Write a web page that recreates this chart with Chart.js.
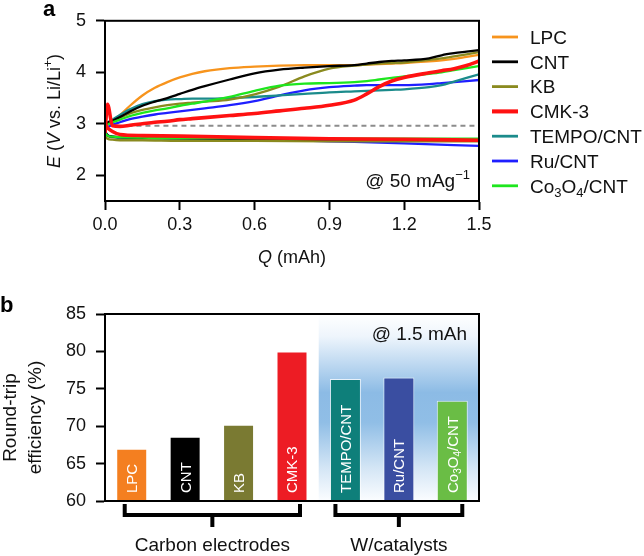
<!DOCTYPE html>
<html><head><meta charset="utf-8">
<script src="https://cdn.jsdelivr.net/npm/chart.js"></script>
<style>
html,body{margin:0;padding:0;background:#fff;width:644px;height:556px;overflow:hidden}
#wrapA{position:absolute;left:0;top:0;width:644px;height:280px}
#wrapB{position:absolute;left:0;top:290px;width:644px;height:266px}
canvas{display:block}
</style></head><body>
<div id="wrapA"><canvas id="chartA" width="644" height="280"></canvas></div>
<div id="wrapB"><canvas id="chartB" width="644" height="266"></canvas></div>
<script>
// ---------- DATA (panel a) ----------
const seriesNames = ['LPC', 'CNT', 'KB', 'CMK-3', 'TEMPO/CNT', 'Ru/CNT', 'Co3O4/CNT'];
const qCharge = [0, 0.01, 0.03, 0.06, 0.1, 0.15, 0.2, 0.25, 0.3, 0.35, 0.4, 0.5, 0.6, 0.7, 0.8, 0.9, 1.0, 1.05, 1.1, 1.15, 1.2, 1.3, 1.35, 1.4, 1.45, 1.5];
const qDischarge = [0, 0.01, 0.03, 0.06, 0.15, 0.3, 0.6, 0.9, 1.2, 1.5];
const lpcCharge = [2.95, 3.0, 3.06, 3.17, 3.35, 3.55, 3.7, 3.81, 3.9, 3.97, 4.02, 4.08, 4.11, 4.13, 4.14, 4.14, 4.14, 4.15, 4.16, 4.17, 4.18, 4.21, 4.23, 4.26, 4.3, 4.34];
const cntCharge = [2.97, 3.02, 3.06, 3.13, 3.24, 3.35, 3.43, 3.5, 3.58, 3.66, 3.73, 3.86, 3.98, 4.05, 4.09, 4.12, 4.14, 4.17, 4.2, 4.22, 4.23, 4.27, 4.33, 4.37, 4.4, 4.43];
const kbCharge = [2.96, 3.0, 3.05, 3.12, 3.2, 3.27, 3.32, 3.36, 3.39, 3.41, 3.43, 3.47, 3.57, 3.72, 3.92, 4.07, 4.13, 4.15, 4.17, 4.18, 4.19, 4.24, 4.27, 4.31, 4.35, 4.39];
const cmkCharge = [2.82, 3.38, 2.96, 2.95, 2.97, 3.0, 3.03, 3.05, 3.08, 3.1, 3.12, 3.16, 3.2, 3.25, 3.3, 3.36, 3.46, 3.58, 3.72, 3.83, 3.9, 3.99, 4.03, 4.07, 4.13, 4.22];
const tempoCharge = [2.97, 3.02, 3.08, 3.17, 3.28, 3.38, 3.44, 3.47, 3.48, 3.49, 3.49, 3.5, 3.52, 3.55, 3.58, 3.61, 3.63, 3.64, 3.65, 3.66, 3.67, 3.71, 3.75, 3.82, 3.89, 3.96];
const ruCharge = [2.88, 2.93, 2.98, 3.03, 3.09, 3.14, 3.18, 3.21, 3.24, 3.27, 3.3, 3.36, 3.44, 3.55, 3.65, 3.71, 3.74, 3.75, 3.75, 3.75, 3.75, 3.77, 3.79, 3.81, 3.83, 3.85];
const coCharge = [2.93, 2.98, 3.03, 3.08, 3.15, 3.21, 3.26, 3.3, 3.35, 3.39, 3.43, 3.52, 3.64, 3.74, 3.78, 3.79, 3.81, 3.83, 3.86, 3.89, 3.92, 3.97, 4.0, 4.04, 4.08, 4.12];
const lpcDischarge = [2.82, 2.76, 2.74, 2.73, 2.72, 2.71, 2.70, 2.69, 2.69, 2.68];
const cntDischarge = [2.85, 2.78, 2.75, 2.74, 2.73, 2.72, 2.71, 2.70, 2.70, 2.69];
const kbDischarge = [2.75, 2.71, 2.69, 2.68, 2.68, 2.67, 2.67, 2.66, 2.66, 2.66];
const cmkDischarge = [3.0, 2.92, 2.85, 2.79, 2.77, 2.76, 2.73, 2.71, 2.70, 2.68];
const tempoDischarge = [2.83, 2.77, 2.74, 2.73, 2.72, 2.71, 2.71, 2.70, 2.70, 2.70];
const ruDischarge = [2.85, 2.78, 2.75, 2.74, 2.73, 2.72, 2.70, 2.66, 2.62, 2.57];
const coDischarge = [2.83, 2.77, 2.75, 2.74, 2.73, 2.72, 2.72, 2.71, 2.71, 2.71];
const equilibriumQ = [0.09, 1.5];
const equilibriumE = [2.96, 2.96];
const xTicksA = [0, 0.3, 0.6, 0.9, 1.2, 1.5];
const yTicksA = [2, 3, 4, 5];

// ---------- DATA (panel b) ----------
const barCategories = ['LPC', 'CNT', 'KB', 'CMK-3', 'TEMPO/CNT', 'Ru/CNT', 'Co3O4/CNT'];
const efficiency = [67.0, 68.6, 70.2, 80.0, 76.3, 76.5, 73.4];
const yTicksB = [60, 65, 70, 75, 80, 85];
const groupNames = ['Carbon electrodes', 'W/catalysts'];
const groupFirst = [0, 4];
const groupLast = [3, 6];

// ---------- STYLES ----------
const FONT = '"Liberation Sans", Arial, Helvetica, sans-serif';
const lineColors = ['#f7941d', '#000000', '#8a8a1f', '#ff1111', '#1b8b8b', '#1f1fff', '#1ee61e'];
const lineWidths = [2.3, 2.3, 2.3, 3.6, 2.3, 2.3, 2.3];
const drawOrder = [6, 2, 3, 0, 4, 5, 1];
const barColors = ['#f47f20', '#000000', '#7a7a32', '#ed1c24', '#0e7f7a', '#3a4ea1', '#6abd45'];

Chart.defaults.font.family = FONT;
Chart.defaults.color = '#111';

// rich text helpers
function toSegs(name) {
  const segs = [];
  const re = /([A-Za-z])(\d+)/g;
  let last = 0, m;
  while ((m = re.exec(name)) !== null) {
    const end = m.index + 1;
    segs.push({ t: name.slice(last, end) });
    segs.push({ t: m[2], pos: 'sub' });
    last = m.index + m[0].length;
  }
  if (last < name.length) segs.push({ t: name.slice(last) });
  return segs;
}
function segFont(s, size) {
  const sz = s.pos ? Math.round(size * 0.68) : size;
  return (s.it ? 'italic ' : '') + (s.bold ? 'bold ' : '') + sz + 'px ' + FONT;
}
function richWidth(ctx, segs, size) {
  let w = 0;
  segs.forEach(s => { ctx.font = segFont(s, size); w += ctx.measureText(s.t).width; });
  return w;
}
function drawRich(ctx, segs, x, y, size, align, color) {
  ctx.save();
  ctx.fillStyle = color || '#111';
  ctx.textBaseline = 'alphabetic';
  ctx.textAlign = 'left';
  const w = richWidth(ctx, segs, size);
  let cx = align === 'center' ? x - w / 2 : align === 'right' ? x - w : x;
  segs.forEach(s => {
    ctx.font = segFont(s, size);
    let dy = 0;
    if (s.pos === 'sub') dy = size * 0.25;
    if (s.pos === 'sup') dy = -size * 0.42;
    ctx.fillText(s.t, cx, y + dy);
    cx += ctx.measureText(s.t).width;
  });
  ctx.restore();
}

// ---------- CHART A ----------
function pts(xs, ys) { return xs.map((x, i) => ({ x: x, y: ys[i] })); }
const chargeSets = [lpcCharge, cntCharge, kbCharge, cmkCharge, tempoCharge, ruCharge, coCharge];
const dischargeSets = [lpcDischarge, cntDischarge, kbDischarge, cmkDischarge, tempoDischarge, ruDischarge, coDischarge];
const dsA = [];
seriesNames.forEach((n, i) => {
  [pts(qDischarge, dischargeSets[i]), pts(qCharge, chargeSets[i])].forEach((d, k) => {
    dsA.push({
      label: n + (k ? ' charge' : ' discharge'),
      data: d,
      borderColor: lineColors[i],
      backgroundColor: lineColors[i],
      borderWidth: lineWidths[i],
      pointRadius: 0,
      fill: false,
      cubicInterpolationMode: 'monotone',
      order: drawOrder[i] + 1
    });
  });
});
dsA.push({
  label: 'E0',
  data: pts(equilibriumQ, equilibriumE),
  borderColor: '#8c8c8c',
  borderWidth: 2,
  borderDash: [5, 4],
  pointRadius: 0,
  fill: false,
  order: 50
});

const decoA = {
  id: 'decoA',
  afterDraw(chart) {
    const ctx = chart.ctx, a = chart.chartArea;
    ctx.save();
    ctx.strokeStyle = '#000';
    ctx.lineWidth = 2;
    ctx.strokeRect(a.left, a.top, a.right - a.left, a.bottom - a.top);
    ctx.restore();
    drawRich(ctx, [{ t: 'a', bold: true }], 43, 16, 22, 'left', '#000');
    ctx.save();
    ctx.translate(60, (a.top + a.bottom) / 2);
    ctx.rotate(-Math.PI / 2);
    drawRich(ctx, [{ t: 'E', it: true }, { t: ' (' }, { t: 'V', it: true }, { t: ' vs. Li/Li' }, { t: '+', pos: 'sup' }, { t: ')' }], 0, 0, 18, 'center', '#111');
    ctx.restore();
    drawRich(ctx, [{ t: 'Q', it: true }, { t: ' (mAh)' }], (a.left + a.right) / 2, 263, 18, 'center', '#111');
    drawRich(ctx, [{ t: '@ 50 mAg' }, { t: '\u22121', pos: 'sup' }], 470, 187, 19, 'right', '#111');
    seriesNames.forEach((n, i) => {
      const y = 37 + i * 24.8;
      ctx.save();
      ctx.strokeStyle = lineColors[i];
      ctx.lineWidth = lineWidths[i] + 0.5;
      ctx.beginPath();
      ctx.moveTo(492, y);
      ctx.lineTo(518, y);
      ctx.stroke();
      ctx.restore();
      drawRich(ctx, toSegs(n), 530, y + 6.8, 19, 'left', '#111');
    });
  }
};

new Chart(document.getElementById('chartA'), {
  type: 'line',
  data: { datasets: dsA },
  options: {
    responsive: false,
    animation: false,
    layout: { padding: { left: 0, right: 165, top: 13, bottom: 0 } },
    plugins: { legend: { display: false }, tooltip: { enabled: false } },
    scales: {
      x: {
        type: 'linear', min: 0, max: 1.5,
        afterBuildTicks: s => { s.ticks = xTicksA.map(v => ({ value: v })); },
        afterFit: s => { s.height = 79; },
        ticks: { font: { size: 18 }, color: '#111', padding: 4, callback: v => Number(v).toFixed(1), maxRotation: 0 },
        grid: { display: true, drawOnChartArea: false, drawTicks: true, tickLength: 9, tickWidth: 2, color: '#000' },
        border: { display: true, color: '#000', width: 2 }
      },
      y: {
        type: 'linear', min: 1.5, max: 5,
        afterBuildTicks: s => { s.ticks = yTicksA.map(v => ({ value: v })); },
        afterFit: s => { s.width = 105; },
        ticks: { font: { size: 18 }, color: '#111', padding: 10, callback: v => String(v) },
        grid: { display: true, drawOnChartArea: false, drawTicks: true, tickLength: 9, tickWidth: 2, color: '#000' },
        border: { display: true, color: '#000', width: 2 }
      }
    }
  },
  plugins: [decoA]
});

// ---------- CHART B ----------
const decoB = {
  id: 'decoB',
  beforeDatasetsDraw(chart) {
    const ctx = chart.ctx, a = chart.chartArea, xs = chart.scales.x;
    const x0 = (xs.getPixelForValue(3) + xs.getPixelForValue(4)) / 2;
    const g = ctx.createLinearGradient(0, a.top, 0, a.bottom);
    g.addColorStop(0, '#ffffff');
    g.addColorStop(0.12, '#eef5fc');
    g.addColorStop(0.42, '#8cbbe5');
    g.addColorStop(0.58, '#90bee6');
    g.addColorStop(0.82, '#d3e5f5');
    g.addColorStop(1, '#fbfdff');
    ctx.save();
    ctx.fillStyle = g;
    ctx.fillRect(x0, a.top, a.right - x0, a.bottom - a.top);
    ctx.restore();
  },
  afterDraw(chart) {
    const ctx = chart.ctx, a = chart.chartArea, xs = chart.scales.x, ys = chart.scales.y;
    // labels inside bars
    barCategories.forEach((name, i) => {
      const bx = xs.getPixelForValue(i);
      const by = ys.getPixelForValue(60);
      ctx.save();
      ctx.translate(bx, by - 8);
      ctx.rotate(-Math.PI / 2);
      drawRich(ctx, toSegs(name), 0, 5.4, 15, 'left', '#ffffff');
      ctx.restore();
    });
    ctx.save();
    ctx.strokeStyle = '#000';
    ctx.lineWidth = 2;
    ctx.strokeRect(a.left, a.top, a.right - a.left, a.bottom - a.top);
    ctx.restore();
    drawRich(ctx, [{ t: 'b', bold: true }], 0, 22, 22, 'left', '#000');
    ctx.save();
    ctx.translate(16, (a.top + a.bottom) / 2 + 10);
    ctx.rotate(-Math.PI / 2);
    drawRich(ctx, [{ t: 'Round-trip' }], 0, 0, 19, 'center', '#111');
    drawRich(ctx, [{ t: 'efficiency (%)' }], 0, 25, 19, 'center', '#111');
    ctx.restore();
    drawRich(ctx, [{ t: '@ 1.5 mAh' }], a.right - 12, a.top + 26, 19, 'right', '#111');
    const y0 = a.bottom + 3, yh = a.bottom + 14, yst = a.bottom + 26;
    groupNames.forEach((name, gi) => {
      const pad = gi === 0 ? [7, 8] : [10, 10];
      const x1 = xs.getPixelForValue(groupFirst[gi]) - pad[0];
      const x2 = xs.getPixelForValue(groupLast[gi]) + pad[1];
      const xm = (x1 + x2) / 2;
      ctx.save();
      ctx.strokeStyle = '#000';
      ctx.lineWidth = 4;
      ctx.lineJoin = 'miter';
      ctx.beginPath();
      ctx.moveTo(x1, y0); ctx.lineTo(x1, yh); ctx.lineTo(x2, yh); ctx.lineTo(x2, y0);
      ctx.moveTo(xm, yh); ctx.lineTo(xm, yst);
      ctx.stroke();
      ctx.restore();
      drawRich(ctx, [{ t: name }], xm, a.bottom + 50, 19, 'center', '#111');
    });
  }
};

new Chart(document.getElementById('chartB'), {
  type: 'bar',
  data: {
    labels: barCategories,
    datasets: [{
      label: 'Round-trip efficiency',
      data: efficiency,
      backgroundColor: barColors,
      borderColor: 'rgba(255,255,255,0.75)',
      borderWidth: 1,
      barPercentage: 0.58,
      categoryPercentage: 1.0
    }]
  },
  options: {
    responsive: false,
    animation: false,
    layout: { padding: { left: 0, right: 165, top: 24, bottom: 0 } },
    plugins: { legend: { display: false }, tooltip: { enabled: false } },
    scales: {
      x: {
        type: 'category',
        afterFit: s => { s.height = 55; },
        ticks: { display: false },
        grid: { display: false },
        border: { display: true, color: '#000', width: 2 }
      },
      y: {
        type: 'linear', min: 60, max: 85,
        afterBuildTicks: s => { s.ticks = yTicksB.map(v => ({ value: v })); },
        afterFit: s => { s.width = 105; },
        ticks: { font: { size: 18 }, color: '#111', padding: 10, callback: v => String(v) },
        grid: { display: true, drawOnChartArea: false, drawTicks: true, tickLength: 9, tickWidth: 2, color: '#000' },
        border: { display: true, color: '#000', width: 2 }
      }
    }
  },
  plugins: [decoB]
});
</script>
</body></html>
